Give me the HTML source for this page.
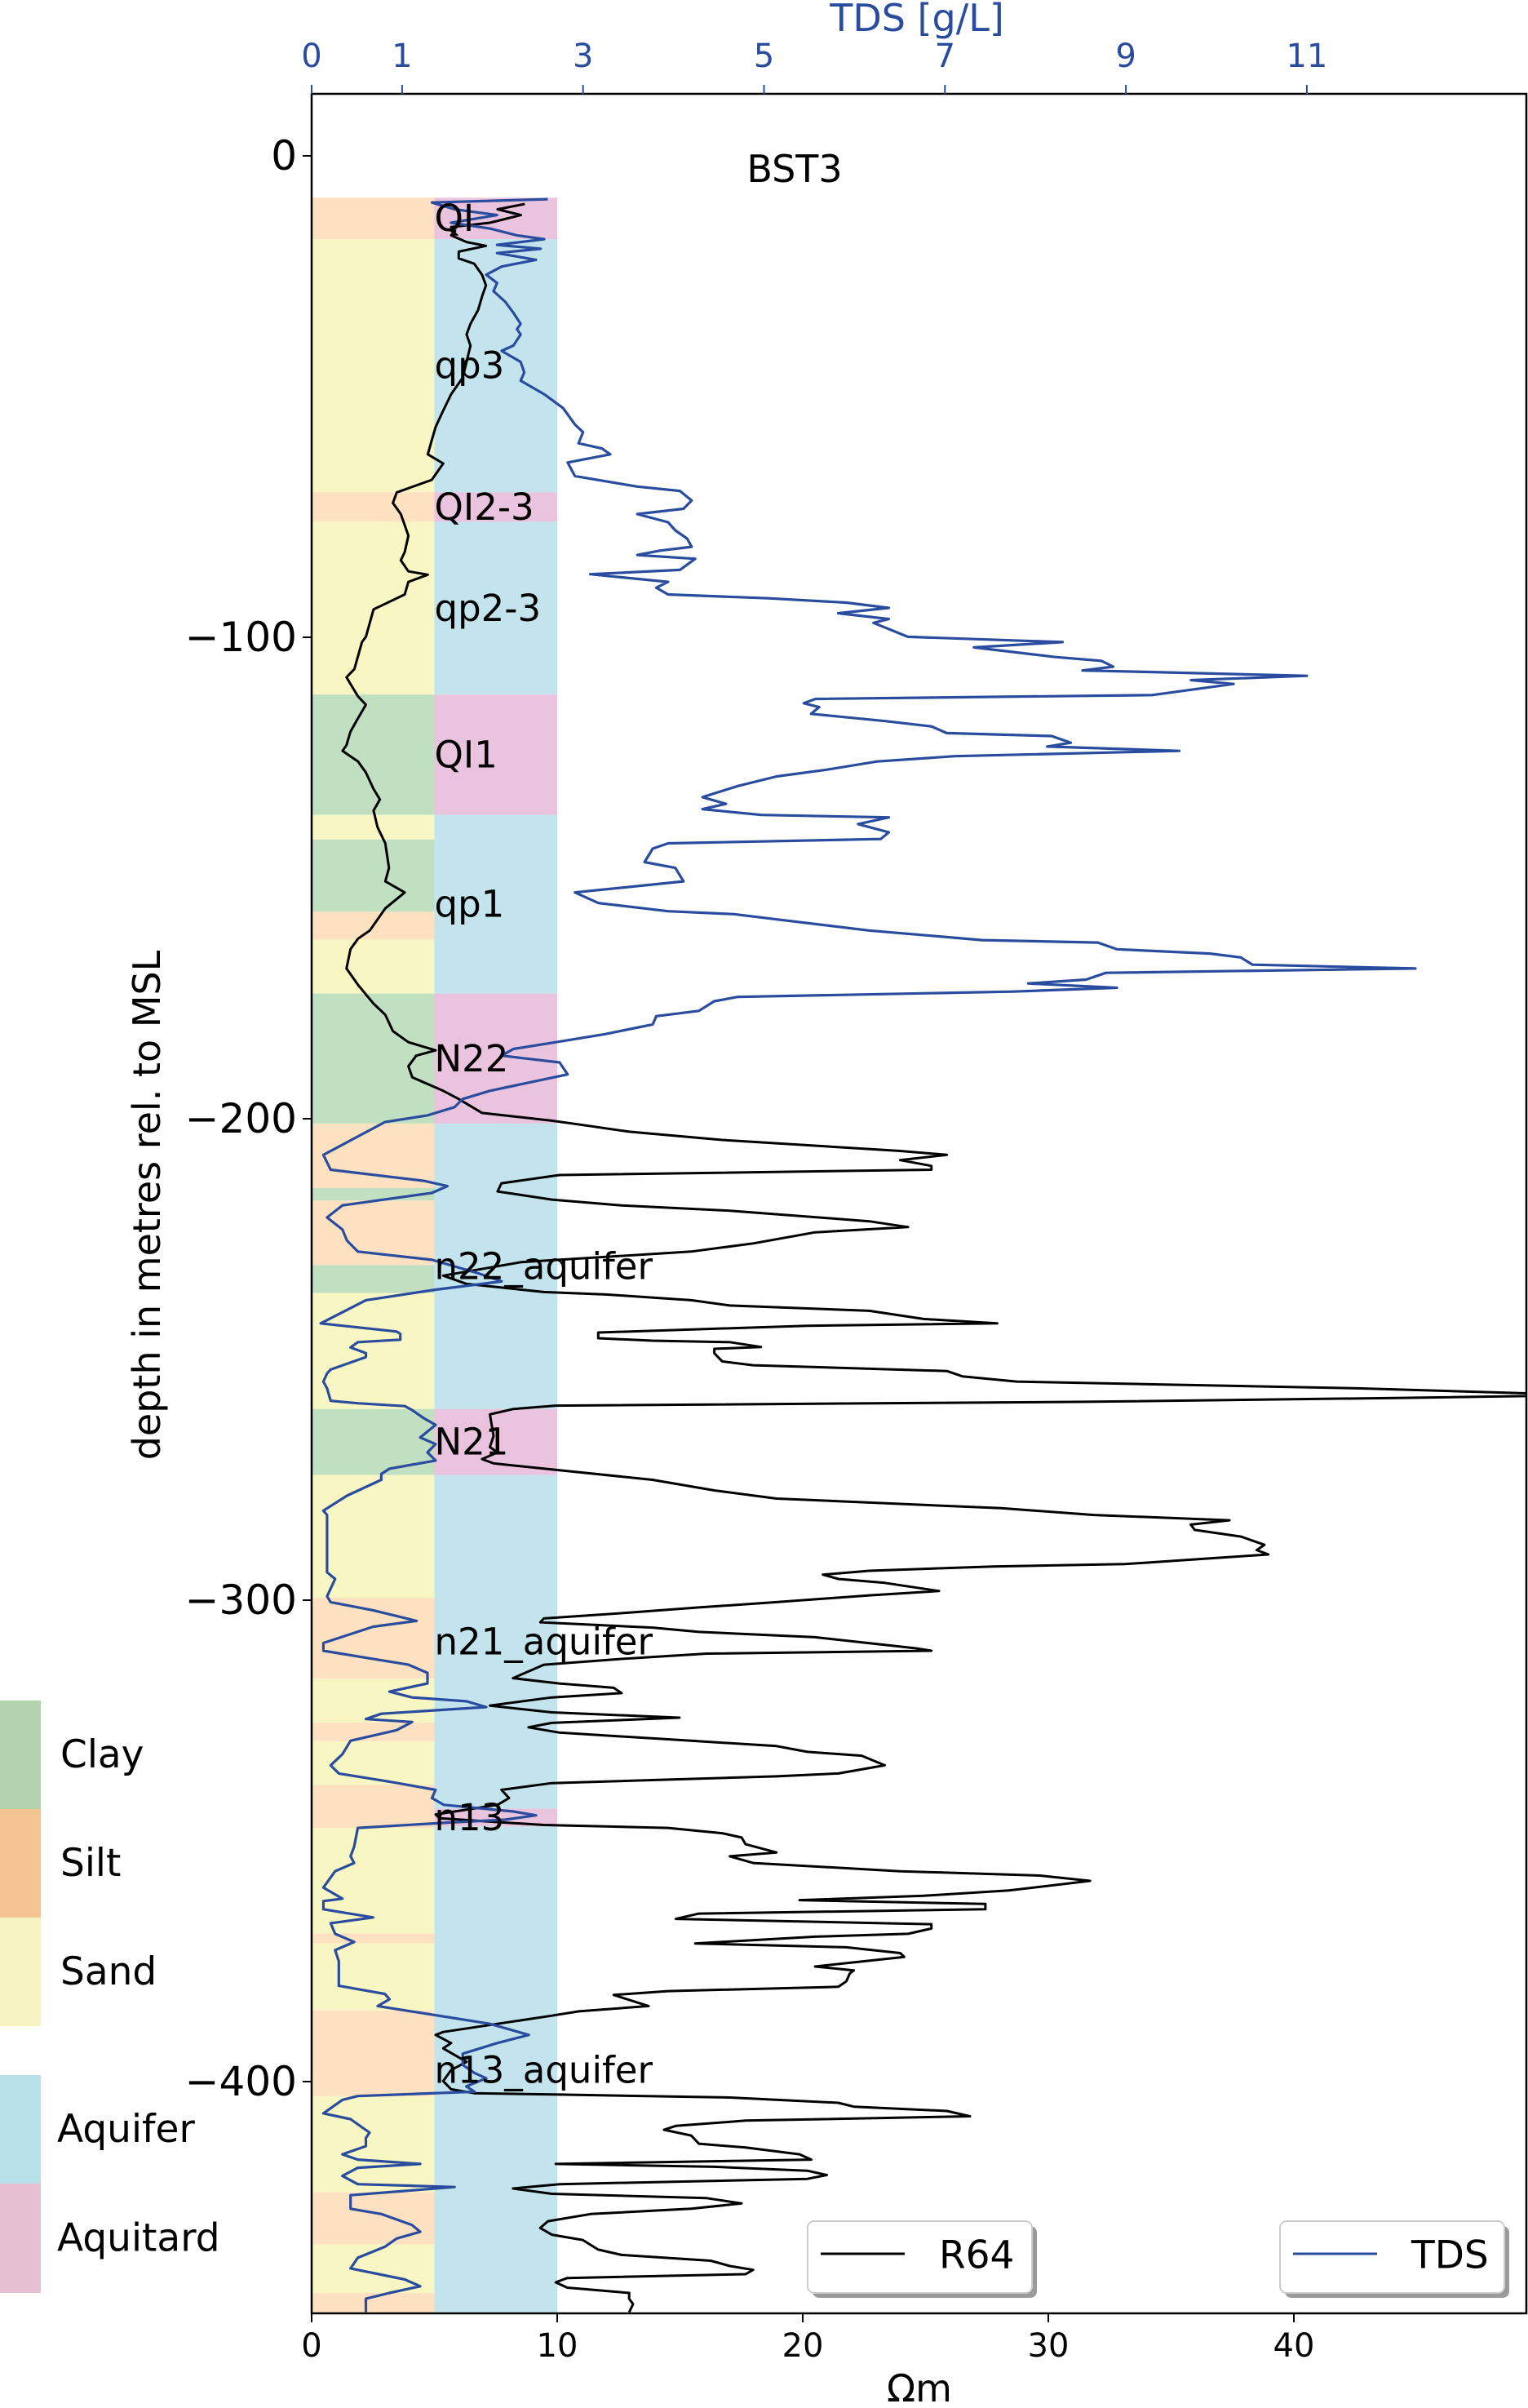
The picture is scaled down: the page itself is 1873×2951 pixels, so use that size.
<!DOCTYPE html>
<html><head><meta charset="utf-8"><style>
body{margin:0;background:#fff;}
svg{display:block;font-family:"DejaVu Sans","Liberation Sans",sans-serif;}
</style></head><body>
<svg id="chart" width="1873" height="2951" viewBox="0 0 1873 2951" xmlns="http://www.w3.org/2000/svg">
<g id="layers"></g>
<g id="lines"></g>
<g id="labels"></g>
<g id="axes"></g>
<g id="legend"></g>
</svg>
<script>
const litTop=[8.7,17.3,69.9,76,111.9,136.9,142,157,162.8,174,201,214.4,217,230.4,236.2,260.3,274,299.5,316.3,325.4,329.3,338.4,347.3,369.2,371.3,385.2,403,423,433.8,443.9];
const litBot=[17.3,69.9,76,111.9,136.9,142,157,162.8,174,201,214.4,217,230.4,236.2,260.3,274,299.5,316.3,325.4,329.3,338.4,347.3,369.2,371.3,385.2,403,423,433.8,443.9,448.2];
const litType=["silt","sand","silt","sand","clay","sand","clay","silt","sand","clay","silt","clay","silt","clay","sand","clay","sand","silt","sand","silt","sand","silt","sand","silt","sand","silt","sand","silt","sand","silt"];
const unitName=["QI","qp3","QI2-3","qp2-3","QI1","qp1","N22","n22_aquifer","N21","n21_aquifer","n13","n13_aquifer"];
const unitTop=[8.7,17.3,69.9,76,111.9,136.9,174,201,260.3,274,343.3,347];
const unitBot=[17.3,69.9,76,111.9,136.9,174,201,260.3,274,343.3,347,448.2];
const unitType=["aquitard","aquifer","aquitard","aquifer","aquitard","aquifer","aquitard","aquifer","aquitard","aquifer","aquitard","aquifer"];
const tdsDepth=[9.0,9.7,11.1,12.3,13.9,15.1,16.5,17.3,18.5,19.3,20.2,21.6,23.0,24.7,26.4,28.1,30.3,32.6,34.9,36.0,37.1,39.4,40.5,42.8,45.0,46.7,49.5,52.4,55.8,57.4,59.7,60.8,62.0,63.7,66.5,67.6,68.7,69.6,71.6,73.3,74.4,76.1,77.8,79.5,81.2,82.0,82.9,83.7,86.0,86.9,88.5,89.7,91.1,91.9,92.8,93.9,95.0,96.2,97.0,99.9,101.0,102.1,104.1,104.9,106.1,106.9,107.2,108.0,108.9,109.7,112.0,112.8,113.7,114.5,115.9,117.4,118.5,119.9,120.5,121.9,122.7,123.6,124.7,125.8,127.5,128.9,130.9,133.2,134.6,135.7,136.9,137.4,138.8,140.5,141.9,142.8,143.9,146.7,147.9,150.7,153.0,155.2,156.9,157.5,158.6,160.9,162.0,162.9,163.4,164.8,165.7,166.5,168.0,168.8,169.7,171.1,171.9,172.8,173.6,174.7,175.6,177.6,178.7,180.4,182.4,184.1,185.5,186.9,188.3,190.8,194.2,195.9,197.6,199.3,200.7,207.5,210.6,212.9,214.0,215.4,218.0,220.5,223.0,225.3,227.6,229.3,232.1,233.8,235.5,237.7,242.5,244.2,244.7,245.9,246.4,247.5,248.7,249.5,252.1,252.9,254.6,256.0,258.6,259.1,259.7,260.5,262.2,263.6,266.2,267.6,269.3,271.0,272.7,273.8,275.0,278.3,281.4,282.3,294.2,295.6,299.2,300.4,302.1,304.3,305.5,308.9,310.5,313.4,315.1,317.3,319.0,320.2,321.0,322.2,323.6,324.7,325.3,327.0,329.2,332.0,334.3,336.0,337.7,339.4,341.1,342.5,343.9,344.7,345.6,346.2,347.3,351.2,353.2,354.6,356.3,359.7,362.0,362.5,364.2,365.9,367.1,369.3,371.0,372.7,375.0,380.1,381.8,382.9,384.3,388.0,390.3,392.0,394.2,396.5,398.2,399.3,401.0,402.1,403.0,403.8,406.6,407.8,410.6,411.7,413.4,415.1,416.2,417.1,417.9,419.6,421.3,421.9,423.6,426.4,427.5,429.8,431.2,432.6,434.3,436.6,438.8,441.1,442.5,443.9,445.1,447.9];
const tdsValue=[2.61,1.33,1.58,2.05,1.54,1.97,2.27,2.57,2.05,2.53,2.05,2.48,2.10,1.93,2.05,2.01,2.14,2.23,2.31,2.27,2.31,2.23,2.10,2.31,2.35,2.31,2.57,2.78,2.91,3.00,2.95,3.21,3.30,2.83,2.91,3.25,3.60,4.07,4.20,4.11,3.60,3.94,4.02,4.15,4.20,3.85,3.60,4.24,4.07,3.08,3.94,3.81,3.94,5.05,5.91,6.38,5.82,6.38,6.21,6.59,8.30,7.32,8.22,8.73,8.86,8.52,9.25,11.00,9.72,10.19,9.29,5.57,5.44,5.61,5.52,6.34,6.85,7.02,8.18,8.39,8.13,9.59,7.11,6.25,5.69,5.14,4.71,4.32,4.58,4.32,4.97,6.38,6.04,6.38,6.29,3.94,3.77,3.68,4.02,4.11,2.91,3.17,3.94,4.67,5.14,6.16,6.85,7.41,8.69,8.90,9.93,10.27,10.40,12.20,8.78,8.56,7.92,8.90,7.75,4.71,4.45,4.28,3.81,3.77,3.25,2.70,2.23,2.10,2.74,2.83,1.97,1.67,1.58,1.28,0.81,0.13,0.21,1.24,1.50,1.33,0.34,0.17,0.34,0.39,0.51,1.33,1.84,2.10,1.37,0.60,0.10,0.94,0.98,0.98,0.51,0.43,0.60,0.60,0.21,0.17,0.13,0.17,0.21,0.51,1.03,1.11,1.24,1.37,1.20,1.37,1.28,1.37,0.86,0.77,0.77,0.39,0.13,0.17,0.17,0.26,0.17,0.21,0.68,1.16,0.68,0.13,0.13,1.07,1.28,1.28,0.86,1.11,1.71,1.93,0.77,0.60,1.11,0.94,0.43,0.34,0.21,0.30,0.86,1.37,1.33,1.46,2.23,2.48,2.14,1.50,0.51,0.47,0.43,0.47,0.26,0.13,0.34,0.13,0.13,0.68,0.21,0.26,0.47,0.26,0.30,0.30,0.81,0.86,0.73,1.97,2.40,2.05,1.67,1.67,1.80,1.93,1.71,1.80,0.51,0.34,0.13,0.43,0.64,0.60,0.60,0.34,0.51,1.20,0.51,0.34,0.51,1.58,0.43,0.43,0.77,1.11,1.20,0.94,0.81,0.51,0.43,1.03,1.20,0.86,0.60,0.60];
const resDepth=[10.0,11.1,12.3,13.9,14.8,15.6,16.5,17.9,18.7,19.9,21.3,22.4,24.7,26.9,29.2,32.0,34.9,37.1,39.4,42.8,46.1,49.5,52.9,56.3,59.1,62.0,63.9,67.3,69.9,72.1,74.4,76.7,78.9,82.3,84.0,86.3,87.0,88.5,91.1,94.2,99.9,101.0,106.6,108.3,112.3,114.0,116.8,119.6,122.4,123.6,125.8,128.1,131.5,133.7,136.0,139.4,142.8,147.9,150.7,153.0,156.3,160.9,162.6,164.8,168.8,172.2,176.1,178.4,181.8,184.1,185.8,186.9,189.1,191.4,194.2,195.9,198.8,200.4,201.3,202.7,204.4,206.7,207.5,208.6,209.8,210.6,211.7,213.4,215.1,216.8,218.0,219.1,221.3,222.5,223.6,225.9,227.6,229.8,232.6,234.3,236.0,236.5,237.7,238.8,239.9,241.6,242.5,243.0,244.4,245.6,246.1,246.4,247.4,247.8,248.7,250.4,251.2,252.4,253.5,254.6,255.2,256.0,257.4,258.0,258.8,259.6,260.3,261.4,265.9,268.2,269.3,270.7,271.6,273.0,275.0,277.2,278.9,280.0,280.9,282.3,283.4,284.3,285.4,286.8,288.5,289.6,290.5,291.3,292.5,293.0,293.9,294.7,295.6,296.4,298.1,299.0,300.4,301.5,302.6,303.8,304.6,305.7,306.6,307.7,310.0,310.5,311.1,312.2,313.4,316.2,317.3,318.2,319.3,320.2,321.9,323.3,324.4,325.5,326.4,327.5,329.2,330.3,331.5,332.3,334.3,336.0,336.6,338.0,339.4,341.1,342.5,344.5,345.3,346.2,346.7,347.3,348.4,349.3,350.7,352.4,353.2,354.6,356.3,357.2,358.3,360.3,361.4,362.3,363.1,364.2,365.1,366.2,367.3,368.2,369.3,369.9,371.3,372.1,373.3,374.1,376.1,376.9,377.5,379.2,380.3,381.2,382.0,384.3,385.4,386.3,389.7,390.3,392.0,393.1,395.9,397.6,399.9,401.6,402.4,402.7,403.3,404.4,405.2,406.1,407.2,408.1,409.2,410.0,411.2,412.9,413.7,415.1,416.2,417.1,417.7,418.5,419.4,420.2,421.3,422.2,423.3,424.2,425.3,426.4,427.5,429.0,430.4,431.8,432.9,434.9,436.0,437.2,438.3,439.1,440.0,440.8,441.7,442.8,443.9,445.1,446.2,447.9];
const resValue=[8.68,7.57,8.52,7.26,5.68,5.84,5.68,6.31,7.10,5.99,5.99,6.62,6.94,7.10,6.94,6.78,6.47,6.31,6.47,6.31,6.15,5.68,5.36,5.05,4.89,4.73,5.36,4.89,3.47,3.31,3.63,3.79,3.94,3.79,3.63,3.94,4.73,3.94,3.79,2.52,2.21,2.05,1.74,1.42,1.89,2.21,1.89,1.58,1.42,1.26,1.89,2.21,2.52,2.78,2.52,2.68,3.00,3.15,3.00,3.79,3.00,2.37,1.89,1.58,1.42,1.89,2.52,3.00,3.31,3.94,5.05,4.26,3.94,4.10,5.36,5.99,6.94,9.78,11.04,12.93,16.72,23.97,25.87,23.97,25.24,25.24,10.09,7.73,7.57,9.78,12.62,17.03,22.71,24.29,20.50,17.98,15.46,8.52,5.36,6.31,9.46,11.99,15.46,17.03,22.71,24.92,27.92,20.19,11.67,11.67,13.88,17.03,18.30,16.40,16.40,16.72,17.98,25.87,26.50,28.71,34.70,42.59,52.0,44.16,31.55,9.94,8.20,7.26,7.41,7.26,7.57,6.94,7.41,10.09,13.88,16.40,18.93,23.97,28.08,31.86,37.38,35.80,35.96,37.85,38.80,38.49,38.96,36.59,33.12,27.76,22.71,20.82,21.45,23.34,25.55,22.71,18.93,15.77,12.93,9.46,9.31,13.88,15.77,20.50,24.61,25.24,16.09,12.62,9.46,8.20,10.09,12.30,12.62,9.78,7.26,9.78,14.98,9.78,8.83,10.09,15.46,18.93,20.19,22.40,23.34,21.45,18.93,9.78,7.73,8.04,7.57,5.05,5.21,7.89,9.46,14.51,16.72,17.51,17.67,18.93,17.03,17.98,23.97,29.65,31.70,28.39,24.92,19.87,27.44,27.44,15.77,14.83,25.24,25.24,24.29,20.50,15.62,21.77,23.97,24.13,20.50,22.08,21.92,21.77,21.45,14.51,12.30,13.72,10.88,9.78,5.36,5.05,5.68,5.36,6.31,5.68,5.36,5.68,6.62,10.09,17.03,21.45,22.08,25.87,26.81,17.67,14.83,14.35,15.46,15.77,17.67,19.87,20.35,9.94,16.40,20.19,20.98,20.19,10.09,8.20,9.78,16.09,17.51,15.46,11.36,9.62,9.31,9.78,11.04,11.67,12.62,16.25,17.03,17.98,17.67,10.41,9.94,10.41,12.93,12.93,13.09,12.93];
const depthTicks=[0,-100,-200,-300,-400];
const ohmTicks=[0,10,20,30,40];
const tdsTicks=[0,1,3,5,7,9,11];

const NS="http://www.w3.org/2000/svg";
const X0=382,X1=1871,Y0=115,Y1=2835;
const yS=d=>191+d*5.9;            // depth (m below MSL) -> px
const xOhm=v=>X0+v*30.1;          // ohm-m -> px
const xTds=v=>X0+v*110.9;         // g/L -> px
function mk(tag,attrs,parent){const e=document.createElementNS(NS,tag);for(const k in attrs)e.setAttribute(k,attrs[k]);parent.appendChild(e);return e;}
const gL=document.getElementById('layers'),gLn=document.getElementById('lines'),gLb=document.getElementById('labels'),gA=document.getElementById('axes'),gG=document.getElementById('legend');
const litCol={clay:"#c1dfc1",silt:"#fde1c1",sand:"#f8f6c3"};
const unitCol={aquifer:"#c4e4ed",aquitard:"#eac4de"};
const clipB=d=>Math.min(d,(Y1-191)/5.9);
litTop.forEach((t,i)=>{
  const r=mk('rect',{x:xOhm(0),y:yS(t),width:xOhm(5)-xOhm(0),height:yS(clipB(litBot[i]))-yS(t),fill:litCol[litType[i]]},gL);
  
  
});
unitTop.forEach((t,i)=>{
  const r=mk('rect',{x:xOhm(5),y:yS(t),width:xOhm(10)-xOhm(5),height:yS(clipB(unitBot[i]))-yS(t),fill:unitCol[unitType[i]]},gL);
  
  
});
// lines
const cp=mk('clipPath',{id:'pc'},gLn);mk('rect',{x:X0,y:Y0,width:X1-X0,height:Y1-Y0},cp);
let p1=resDepth.map((d,i)=>(i?'L':'M')+xOhm(resValue[i]).toFixed(1)+' '+yS(d).toFixed(1)).join(' ');
const r64=mk('path',{d:p1,fill:'none',stroke:'#000','stroke-width':3,'stroke-linejoin':'round','clip-path':'url(#pc)'},gLn);


let p2=tdsDepth.map((d,i)=>(i?'L':'M')+xTds(tdsValue[i]).toFixed(1)+' '+yS(d).toFixed(1)).join(' ');
const tds=mk('path',{d:p2,fill:'none',stroke:'#2a4c9e','stroke-width':3.2,'stroke-linejoin':'round','clip-path':'url(#pc)'},gLn);


// unit labels
unitName.forEach((n,i)=>{
  const t=mk('text',{x:xOhm(5),y:yS((unitTop[i]+unitBot[i])/2),'font-size':45,'dominant-baseline':'central',fill:'#000'},gLb);
  t.textContent=n;
  
  
});
// frame
const fr=mk('path',{d:`M${X0} ${Y0}H${X1}V${Y1}H${X0}Z`,fill:'none',stroke:'#000','stroke-width':2.5},gA);


depthTicks.forEach(v=>{
  const y=yS(-v);
  const tk=mk('line',{x1:X0-11,x2:X0,y1:y,y2:y,stroke:'#000','stroke-width':2},gA);
  
  
  const t=mk('text',{x:X0-18,y:y,'font-size':50,'text-anchor':'end','dominant-baseline':'central'},gA);
  t.textContent=v<0?'\u2212'+(-v):''+v;
  
  
});
ohmTicks.forEach(v=>{
  const x=xOhm(v);
  const tk=mk('line',{x1:x,x2:x,y1:Y1,y2:Y1+11,stroke:'#000','stroke-width':2},gA);
  
  
  const t=mk('text',{x:x,y:2875,'font-size':40,'text-anchor':'middle','dominant-baseline':'central'},gA);
  t.textContent=v;
  
  
});
tdsTicks.forEach(v=>{
  const x=xTds(v);
  const tk=mk('line',{x1:x,x2:x,y1:Y0-11,y2:Y0,stroke:'#2a4c9e','stroke-width':2},gA);
  
  
  const t=mk('text',{x:x,y:69,'font-size':40,'text-anchor':'middle','dominant-baseline':'central',fill:'#2a4c9e'},gA);
  t.textContent=v;
  
  
});
</script>
<svg x="0" y="0" width="0" height="0"></svg>
<script>
(function(){
const NS="http://www.w3.org/2000/svg";
const s=document.getElementById('chart');
function txt(str,attrs,name){const t=document.createElementNS(NS,'text');for(const k in attrs)t.setAttribute(k,attrs[k]);t.textContent=str;s.appendChild(t);


return t;}
txt('TDS [g/L]',{x:1124,y:22,'font-size':46,'text-anchor':'middle','dominant-baseline':'central',fill:'#2a4c9e'},'top-x-axis-title');
txt('\u03a9m',{x:1127,y:2927,'font-size':46,'text-anchor':'middle','dominant-baseline':'central'},'x-axis-title');
txt('BST3',{x:974,y:207,'font-size':46,'text-anchor':'middle','dominant-baseline':'central'},'chart-title');
txt('depth in metres rel. to MSL',{x:0,y:0,'font-size':46,'text-anchor':'middle','dominant-baseline':'central',transform:'translate(180 1477) rotate(-90)'},'y-axis-title');
const lg=[['Clay','#b3d3ad',2084,2217],['Silt','#f5c493',2217,2350],['Sand','#f8f4c2',2350,2483],['Aquifer','#b9e1ea',2543,2676],['Aquitard','#e7bfd2',2676,2810]];
lg.forEach(l=>{
  const r=document.createElementNS(NS,'rect');
  r.setAttribute('x',0);r.setAttribute('y',l[2]);r.setAttribute('width',50);r.setAttribute('height',l[3]-l[2]);r.setAttribute('fill',l[1]);
  s.appendChild(r);
  
  
  txt(l[0],{x:l[0].startsWith('Aqui')?70:74,y:(l[2]+l[3])/2,'font-size':47,'dominant-baseline':'central'},'legend-label-'+l[0].toLowerCase());
});
function box(x0,x1,label,col,name){
  const sh=document.createElementNS(NS,'rect');
  sh.setAttribute('x',x0+6);sh.setAttribute('y',2728);sh.setAttribute('width',x1-x0);sh.setAttribute('height',88);sh.setAttribute('rx',8);sh.setAttribute('fill','#9a9a9a');
  s.appendChild(sh);
  
  
  const b=document.createElementNS(NS,'rect');
  b.setAttribute('x',x0);b.setAttribute('y',2722);b.setAttribute('width',x1-x0);b.setAttribute('height',88);b.setAttribute('rx',8);b.setAttribute('fill','#fff');b.setAttribute('stroke','#cccccc');b.setAttribute('stroke-width',2);
  s.appendChild(b);
  
  
  const ln=document.createElementNS(NS,'line');
  ln.setAttribute('x1',x0+16);ln.setAttribute('x2',x0+119);ln.setAttribute('y1',2762);ln.setAttribute('y2',2762);ln.setAttribute('stroke',col);ln.setAttribute('stroke-width',3);
  s.appendChild(ln);
  
  
  txt(label,{x:x0+161,y:2764,'font-size':47,'dominant-baseline':'central'},name+'-label');
}
box(990,1265,'R64','#000','legend-r64');
box(1569,1844,'TDS','#2a4c9e','legend-tds');
})();
</script>
</body></html>
